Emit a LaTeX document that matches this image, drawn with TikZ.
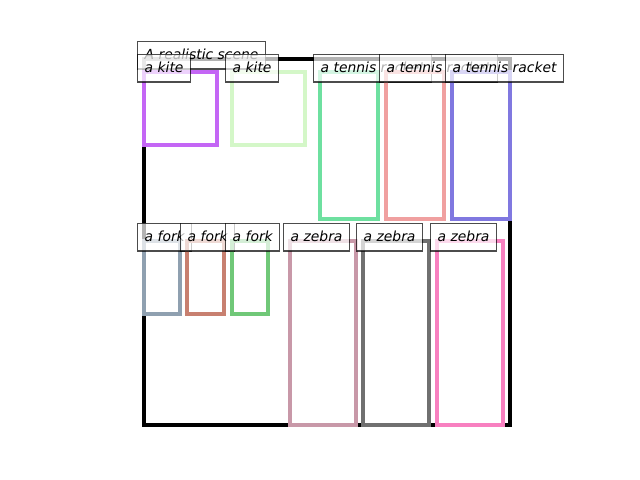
\documentclass[tikz,border=0pt]{standalone}
\usepackage{fontspec}
\setmainfont{DejaVu Sans}
\definecolor{ckiteA}{HTML}{C466F5}
\definecolor{ckiteB}{HTML}{D4F7C8}
\definecolor{cracA}{HTML}{6EE0A0}
\definecolor{cracB}{HTML}{F0A0A0}
\definecolor{cracC}{HTML}{8078E0}
\definecolor{cforkA}{HTML}{8FA0B0}
\definecolor{cforkB}{HTML}{C88070}
\definecolor{cforkC}{HTML}{70C878}
\definecolor{czebA}{HTML}{C898A8}
\definecolor{czebB}{HTML}{707070}
\definecolor{czebC}{HTML}{F880C0}
\tikzset{
  objbox/.style={line width=2.2pt, line join=miter},
  lbl/.style={anchor=base west, xshift=-5pt, font=\itshape, fill=white, fill opacity=0.7,
    text opacity=1, draw=black, draw opacity=0.7, line width=1pt,
    inner xsep=5pt, inner ysep=5pt, text height=7.7pt, text depth=2.2pt}
}
\begin{document}
\begin{tikzpicture}[x=0.72pt,y=-0.72pt]
\useasboundingbox (0,0) rectangle (640,480);
% scene
\draw[line width=2.2pt, black] (144,59) rectangle (510,425);
\coordinate (scene) at (144,59);
\node[lbl] (title) at (scene) {A realistic scene};
% kites
\draw[objbox, ckiteA] (144,72) coordinate (k1) rectangle (217,145);
\node[lbl] (lk1) at (k1) {a kite};
\draw[objbox, ckiteB] (232,72) coordinate (k2) rectangle (305,145);
\node[lbl] (lk2) at (k2) {a kite};
% rackets
\draw[objbox, cracA] (320,72) coordinate (r1) rectangle (378,219);
\node[lbl] (lr1) at (r1) {a tennis racket};
\draw[objbox, cracB] (386,72) coordinate (r2) rectangle (444,219);
\node[lbl] (lr2) at (r2) {a tennis racket};
\draw[objbox, cracC] (452,72) coordinate (r3) rectangle (510,219);
\node[lbl] (lr3) at (r3) {a tennis racket};
% forks
\draw[objbox, cforkA] (144,241) coordinate (f1) rectangle (180,314);
\node[lbl] (lf1) at (f1) {a fork};
\draw[objbox, cforkB] (187,241) coordinate (f2) rectangle (224,314);
\node[lbl] (lf2) at (f2) {a fork};
\draw[objbox, cforkC] (232,241) coordinate (f3) rectangle (268,314);
\node[lbl] (lf3) at (f3) {a fork};
% zebras
\draw[objbox, czebA] (290,241) coordinate (z1) rectangle (356,425);
\node[lbl] (lz1) at (z1) {a zebra};
\draw[objbox, czebB] (363,241) coordinate (z2) rectangle (429,425);
\node[lbl] (lz2) at (z2) {a zebra};
\draw[objbox, czebC] (437,241) coordinate (z3) rectangle (503,425);
\node[lbl] (lz3) at (z3) {a zebra};
\end{tikzpicture}
\end{document}
